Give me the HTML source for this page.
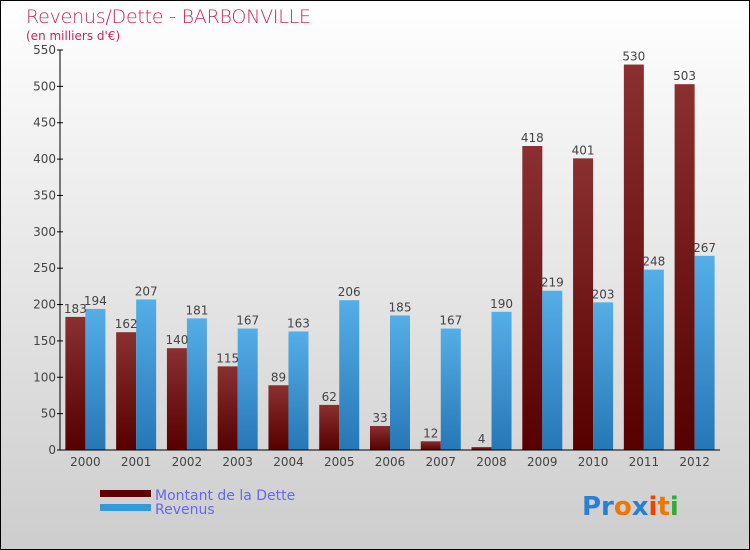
<!DOCTYPE html>
<html><head><meta charset="utf-8"><style>
html,body{margin:0;padding:0}
svg{display:block;font-family:"DejaVu Sans","Liberation Sans",sans-serif}
</style></head><body>
<svg id="chart" width="750" height="550" xmlns="http://www.w3.org/2000/svg">
<defs>
<linearGradient id="bg" x1="0" y1="0" x2="0" y2="1"><stop offset="0" stop-color="#ffffff"/><stop offset="1" stop-color="#cdcdcd"/></linearGradient>
<linearGradient id="gd" x1="0" y1="0" x2="0" y2="1"><stop offset="0" stop-color="#8a3030"/><stop offset="1" stop-color="#560000"/></linearGradient>
<linearGradient id="gr" x1="0" y1="0" x2="0" y2="1"><stop offset="0" stop-color="#55aee8"/><stop offset="1" stop-color="#2677b5"/></linearGradient>
</defs>
<rect x="0.5" y="0.5" width="749" height="549" fill="url(#bg)" stroke="#000"/>
<text x="26" y="23" font-size="19" fill="#c4285c" style="font-family:'DejaVu Sans',sans-serif;font-weight:200" textLength="285">Revenus/Dette - BARBONVILLE</text>
<text x="26" y="40" font-size="12" fill="#c4285c">(en milliers d'€)</text>
<g id="grid"></g>
<g id="bars"></g>
<g id="axes"></g>
<g>
<rect x="100" y="490" width="51" height="7" fill="#600000"/>
<text x="155" y="500" font-size="14" fill="#6666ee">Montant de la Dette</text>
<rect x="100" y="504" width="51" height="7" fill="#3399dd"/>
<text x="155" y="514" font-size="14" fill="#6666ee">Revenus</text>
</g>
<text x="582" y="515" font-size="26" font-weight="bold"><tspan fill="#2a7fd4">Pr</tspan><tspan fill="#ee7700">o</tspan><tspan fill="#2a7fd4">x</tspan><tspan fill="#ee4400">i</tspan><tspan fill="#ee7700">t</tspan><tspan fill="#33aa33">i</tspan></text>
</svg>
<script>
const categories=["2000","2001","2002","2003","2004","2005","2006","2007","2008","2009","2010","2011","2012"];
const detteValues=[183,162,140,115,89,62,33,12,4,418,401,530,503];
const revenusValues=[194,207,181,167,163,206,185,167,190,219,203,248,267];
const yTicks=[0,50,100,150,200,250,300,350,400,450,500,550];
const NS="http://www.w3.org/2000/svg";
const x0=60,x1=720,y0=450,yTop=50,yMax=550;
const band=(x1-x0)/categories.length;
function y(v){return y0-(v/yMax)*(y0-yTop);}
function xc(i){return x0+band*(i+0.5);}
function mk(tag,attrs,parent,txt){const e=document.createElementNS(NS,tag);for(const k in attrs)e.setAttribute(k,attrs[k]);if(txt!==undefined)e.textContent=txt;parent.appendChild(e);return e;}
const axes=document.getElementById('axes'),bars=document.getElementById('bars');
mk('line',{x1:x0,y1:yTop,x2:x0,y2:y0,stroke:'#000'},axes);
mk('line',{x1:x0,y1:y0,x2:x1,y2:y0,stroke:'#000'},axes);
yTicks.forEach(t=>{
  const l=mk('line',{x1:x0-3,y1:y(t),x2:x0+3,y2:y(t),stroke:'#000'},axes);
  
  
  const tx=mk('text',{x:x0-4,y:y(t)+4,'font-size':12,'text-anchor':'end',fill:'#444'},axes,t);
  
  
});
categories.forEach((c,i)=>{
  const cx=xc(i);
  const tl=mk('text',{x:cx,y:466,'font-size':12,'text-anchor':'middle',fill:'#444'},axes,c);
  
  
  const d=detteValues[i],r=revenusValues[i];
  const bd=mk('rect',{x:cx-20,y:y(d),width:20,height:y0-y(d),fill:'url(#gd)'},bars);
  
  
  const br=mk('rect',{x:cx,y:y(r),width:20,height:y0-y(r),fill:'url(#gr)'},bars);
  
  
  const ld=mk('text',{x:cx-10,y:y(d)-4,'font-size':12,'text-anchor':'middle',fill:'#444'},bars,d);
  
  
  const lr=mk('text',{x:cx+10,y:y(r)-4,'font-size':12,'text-anchor':'middle',fill:'#444'},bars,r);
  
  
});
</script>
</body></html>
